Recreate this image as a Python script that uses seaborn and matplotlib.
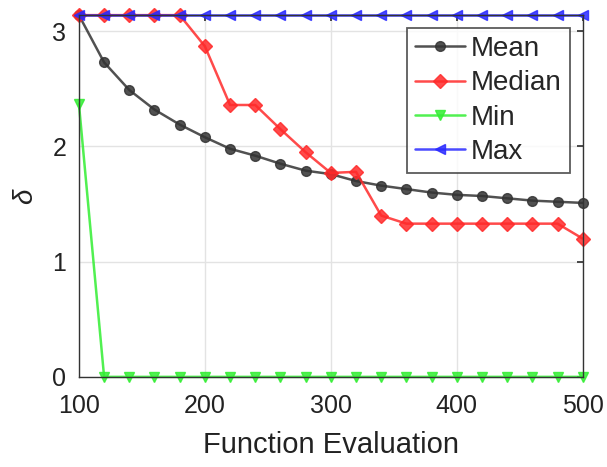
import numpy as np
import pandas as pd
import matplotlib
matplotlib.use("Agg")
import matplotlib.pyplot as plt
import seaborn as sns

evals = list(range(100, 501, 20))
mean_vals = [3.14, 2.73, 2.49, 2.32, 2.19, 2.08, 1.98, 1.92, 1.85, 1.79, 1.76,
             1.70, 1.66, 1.63, 1.60, 1.58, 1.57, 1.55, 1.53, 1.52, 1.51]
median_vals = [3.14, 3.14, 3.14, 3.14, 3.14, 2.87, 2.36, 2.36, 2.15, 1.95, 1.77,
               1.78, 1.40, 1.33, 1.33, 1.33, 1.33, 1.33, 1.33, 1.33, 1.20]
min_vals = [2.37] + [0.0] * 20
max_vals = [3.1416] * 21
series_names = ["Mean", "Median", "Min", "Max"]

df = pd.concat([
    pd.DataFrame({"x": evals, "y": v, "s": n})
    for n, v in zip(series_names, [mean_vals, median_vals, min_vals, max_vals])
])

sns.set_theme(style="white")
plt.rcParams['font.family'] = ['Liberation Sans', 'DejaVu Sans']

fig = plt.figure(figsize=(6.07, 4.67), dpi=100)
ax = fig.add_axes([0.130, 0.193, 0.830, 0.775])

palette = {"Mean": "#333333", "Median": "#ff2a2a", "Min": "#33ee33", "Max": "#2a2aff"}
markers = {"Mean": "o", "Median": "D", "Min": "v", "Max": "<"}
sns.lineplot(data=df, x="x", y="y", hue="s", style="s", palette=palette,
             markers=markers, dashes=False, ax=ax, linewidth=1.8,
             markersize=7, alpha=0.85, clip_on=False)
for ln in ax.lines:
    ln.set_markeredgecolor(ln.get_color())
    ln.set_markeredgewidth(1.0)

ax.set_xlim(100, 500)
ax.set_ylim(0, np.pi)
ax.set_xticks([100, 200, 300, 400, 500])
ax.set_yticks([0, 1, 2, 3])
ax.grid(True, color="#e3e3e3", linewidth=1.0)
ax.tick_params(axis="both", direction="in", labelsize=18, length=4,
               colors="#333333", labelcolor="#222222")
ax.tick_params(axis="x", pad=12)
ax.tick_params(axis="y", pad=9)
ax.tick_params(top=True, right=True)
for sp in ax.spines.values():
    sp.set_color("#333333")
    sp.set_linewidth(1.0)
ax.set_xlabel("Function Evaluation", fontsize=21, color="#222222", labelpad=10)
ax.set_ylabel("δ", fontsize=20, color="#222222", style="italic", labelpad=10)

handles, labels = ax.get_legend_handles_labels()
for h in handles:
    h.set_markeredgecolor(h.get_color())
leg = ax.legend(handles, labels, loc="upper right", bbox_to_anchor=(0.975, 0.965),
                fontsize=20, frameon=True, fancybox=False, edgecolor="#333333",
                handlelength=1.8, handletextpad=0.2, borderpad=0.3, labelspacing=0.3,
                borderaxespad=0.0)
leg.get_frame().set_linewidth(1.3)

fig.savefig("out.png", dpi=100)
